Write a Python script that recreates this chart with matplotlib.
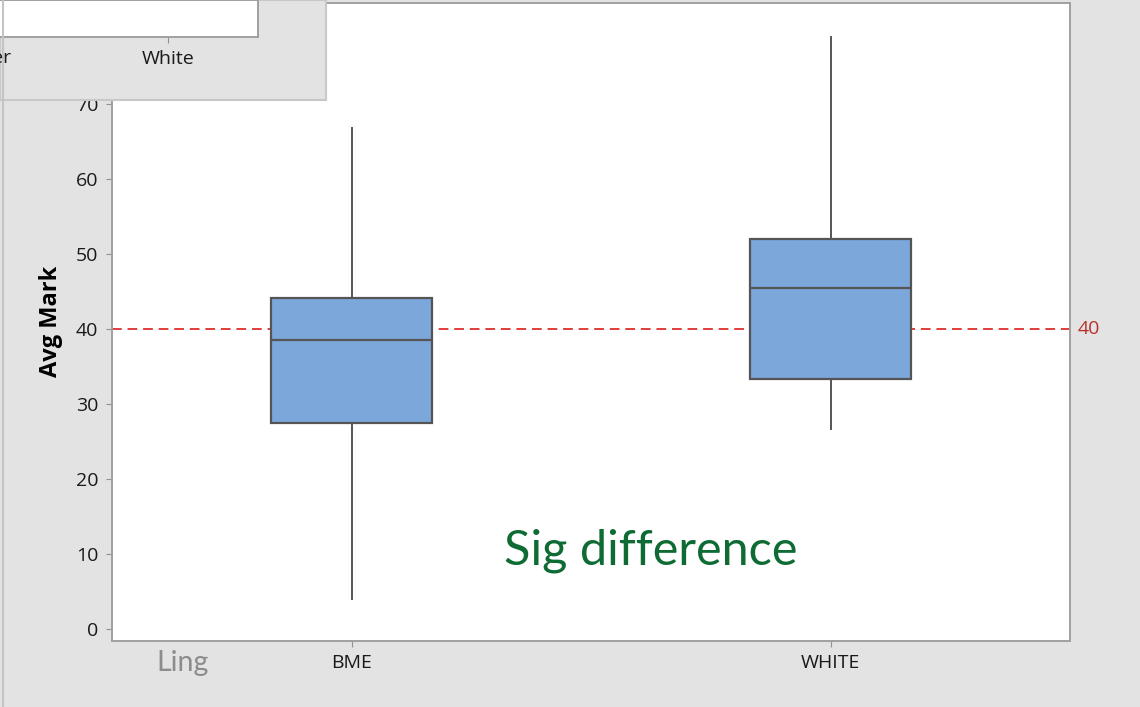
import matplotlib
matplotlib.use("Agg")
import matplotlib.pyplot as plt
from matplotlib.lines import Line2D

# box summary per group
groups = ["BME", "WHITE"]
whisker_low = [4.1, 26.7]
q1 = [27.5, 33.3]
median = [38.6, 45.5]
q3 = [44.1, 52.0]
whisker_high = [66.8, 78.9]
pass_mark = 40

W, H = 1140, 707
BG = "#e3e3e3"
BOX = "#7ba7db"
EDGE = "#555555"

plt.rcParams["font.family"] = ["Open Sans", "DejaVu Sans"]

fig = plt.figure(figsize=(W / 100, H / 100), dpi=100, facecolor=BG)
ax = fig.add_axes([112.3 / W, 1 - 641 / H, (1070 - 112.3) / W, (641 - 2.7) / H])
ax.set_facecolor("white")

stats = [
    dict(whislo=lo, q1=a, med=m, q3=b, whishi=hi, fliers=[], label=g)
    for g, lo, a, m, b, hi in zip(groups, whisker_low, q1, median, q3, whisker_high)
]
ax.bxp(
    stats,
    positions=range(1, len(groups) + 1),
    widths=0.336,
    patch_artist=True,
    showcaps=False,
    showfliers=False,
    boxprops=dict(facecolor=BOX, edgecolor=EDGE, linewidth=1.6),
    medianprops=dict(color=EDGE, linewidth=1.6),
    whiskerprops=dict(color=EDGE, linewidth=1.4),
)

# reference line at the pass mark
ax.axhline(pass_mark, color="#e03c3c", linestyle=(0, (5, 3)), linewidth=1.4, zorder=0.5)
ax.text(1.008, pass_mark, str(pass_mark), transform=ax.get_yaxis_transform(),
        color="#b8332c", fontsize=14, va="center", ha="left")

ax.set_xlim(0.5, 2.5)
ax.set_ylim(-1.56, 83.5)
ax.set_yticks(range(0, 80, 10))
ax.set_ylabel("Avg Mark", fontsize=17, fontweight="bold", labelpad=9)
ax.tick_params(axis="y", labelsize=14, length=4, color="#909090", labelcolor="#1a1a1a", pad=6)
ax.tick_params(axis="x", labelsize=14, length=4, color="#909090", labelcolor="#1a1a1a", pad=5)
for s in ax.spines.values():
    s.set_color("#a0a0a0")
    s.set_linewidth(1.4)

ax.text(0.5625, 0.142, "Sig difference", transform=ax.transAxes, fontsize=35,
        color="#0e6b34", ha="center", va="center", family=["Lato", "DejaVu Sans"])
fig.text(183 / W, 1 - 663 / H, "Ling", fontsize=20.5, color="#8c8c8c",
         ha="center", va="center", family=["Lato", "DejaVu Sans"])

# left frame edge
fig.add_artist(Line2D([2.5 / W, 2.5 / W], [0, 1], color="#c4c4c4", linewidth=1.5))

# piece of the neighbouring window overlapping the top-left corner
panel = fig.add_axes([0, 1 - 100 / H, 326 / W, 100 / H])
panel.set_facecolor(BG)
panel.set_xticks([])
panel.set_yticks([])
for s in panel.spines.values():
    s.set_color("#c8c8c8")
    s.set_linewidth(1.5)

inner = fig.add_axes([-3 / W, 1 - 37 / H, 261 / W, 37 / H])
inner.set_facecolor("white")
inner.set_xlim(-3, 258)
inner.set_yticks([])
inner.set_xticks([168])
inner.set_xticklabels(["White"])
inner.tick_params(axis="x", labelsize=14, length=4, color="#909090", labelcolor="#1a1a1a", pad=5)
for s in inner.spines.values():
    s.set_color("#a0a0a0")
    s.set_linewidth(1.4)
fig.text(12 / W, 1 - 58 / H, "Other", fontsize=14, color="#1a1a1a", ha="right", va="center")

fig.savefig("out.png", dpi=100, facecolor=BG)
